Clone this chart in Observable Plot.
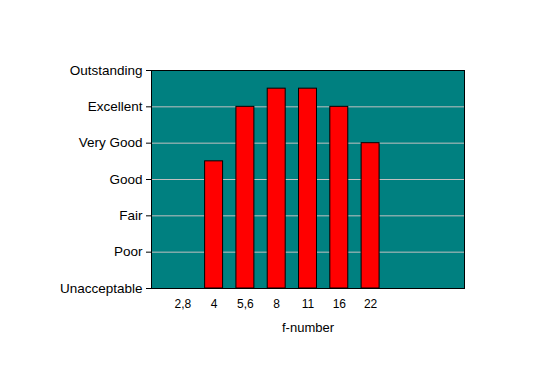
<!DOCTYPE html>
<html>
<head>
<meta charset="utf-8">
<script src="https://cdn.jsdelivr.net/npm/d3@7"></script>
<script src="https://cdn.jsdelivr.net/npm/@observablehq/plot@0.6"></script>
<style>
  html, body { margin: 0; padding: 0; background: #ffffff; }
  #chart svg { display: block; }
</style>
</head>
<body>
<div id="chart"></div>
<script>
const fNumbers = ["2,8", "4", "5,6", "8", "11", "16", "22"];
const ratings = [null, 3.5, 5, 5.5, 5.5, 5, 4];
const levels = ["Unacceptable", "Poor", "Fair", "Good", "Very Good", "Excellent", "Outstanding"];
const xTitle = "f-number";

const data = fNumbers.map((f, i) => ({f, r: ratings[i]}));
const bars = data.filter(d => d.r != null);

const W = 546, H = 385;
const mL = 151, mR = 82, mT = 70, mB = 97;
const step = (W - mL - mR) / 10;

const chart = Plot.plot({
  width: W,
  height: H,
  marginLeft: mL,
  marginRight: mR,
  marginTop: mT,
  marginBottom: mB,
  style: {fontFamily: "'Liberation Sans', Arial, sans-serif", background: "#ffffff", color: "#000"},
  x: {type: "band", domain: fNumbers, range: [mL + step * 0.5, mL + step * 7.5], paddingInner: 0.426, paddingOuter: 0.213, round: false},
  y: {domain: [0, levels.length - 1]},
  marks: [
    Plot.frame({fill: "#008080"}),
    Plot.gridY(d3.range(1, levels.length - 1), {stroke: "#c0c0c0", strokeOpacity: 1, strokeWidth: 1}),
    Plot.barY(bars, {x: "f", y: "r", fill: "#ff0000", stroke: "#000000", strokeWidth: 1}),
    Plot.frame({stroke: "#000000", strokeWidth: 1}),
    Plot.axisY({ticks: d3.range(levels.length), tickFormat: i => levels[i], tickSize: 5, tickPadding: 4, fontSize: 13.5, label: null}),
    Plot.axisX({tickSize: 0, tickPadding: 11, fontSize: 12, label: null}),
    Plot.text([xTitle], {frameAnchor: "bottom", dy: 43, fontSize: 13, text: d => d})
  ]
});
document.getElementById("chart").appendChild(chart);
</script>
</body>
</html>
